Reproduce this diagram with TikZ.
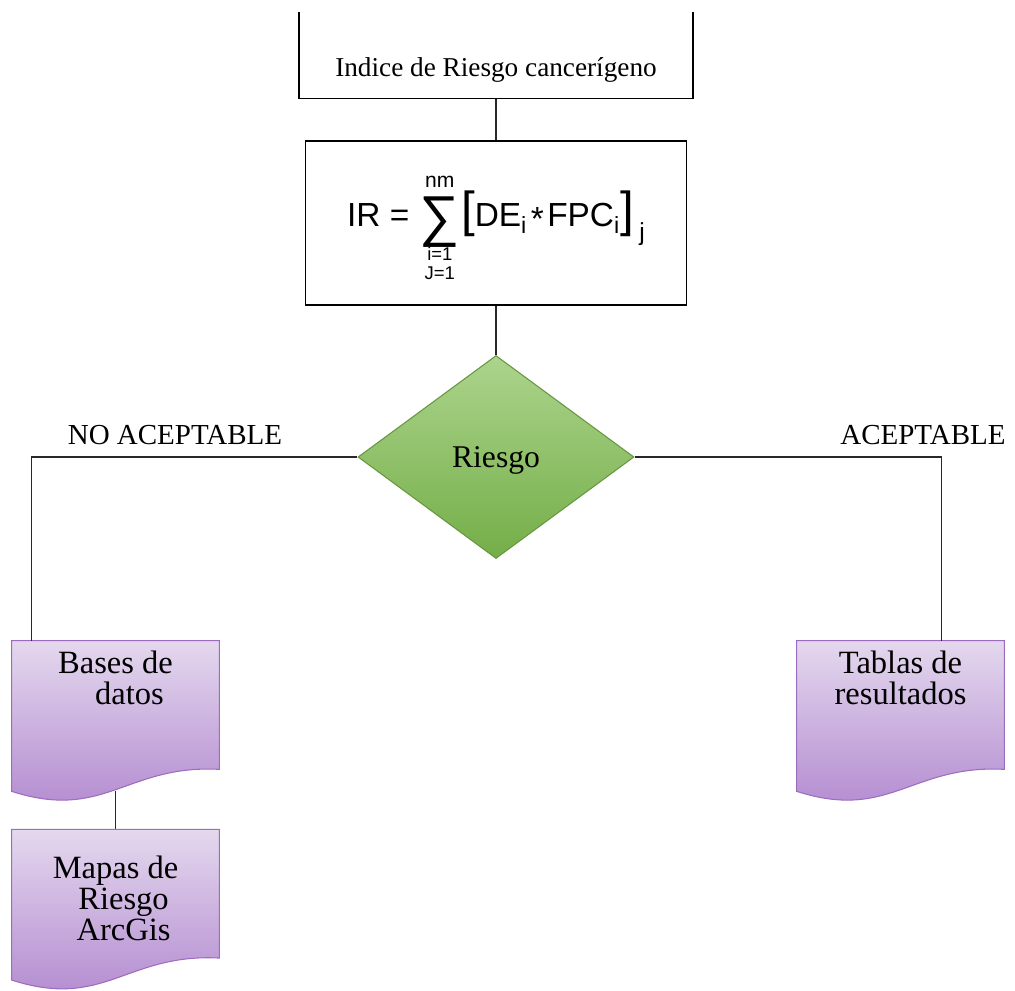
\documentclass[tikz,border=0pt]{standalone}
\usepackage{fontspec}
\setmainfont{Liberation Serif}
\setsansfont{Liberation Sans}
\usepackage{xcolor}
\usetikzlibrary{shapes.geometric, positioning, backgrounds}

\definecolor{GreenTop}{RGB}{172,212,140}
\definecolor{GreenBot}{RGB}{116,174,72}
\definecolor{GreenEdge}{RGB}{104,150,66}
\definecolor{PurpleTop}{RGB}{228,216,238}
\definecolor{PurpleBot}{RGB}{176,134,206}
\definecolor{PurpleEdge}{RGB}{156,108,190}
\definecolor{LineGray}{RGB}{40,40,40}

\newcommand{\doctext}[2][0pt]{\parbox[c][3cm][t]{4.14cm}{\centering\vspace*{#1}#2}}
% sum sign with its limits, placed by hand
\newcommand{\sumpart}[2]{\makebox[0pt]{\raisebox{#1}[0pt][0pt]{#2}}}
\newcommand{\sumstack}{\makebox[0.85cm]{%
  \sumpart{22.5pt}{\fontsize{12}{12}\selectfont nm}%
  \sumpart{-4.8pt}{\fontsize{32}{32}\selectfont ∑}%
  \sumpart{-19.2pt}{\fontsize{10.5}{11}\selectfont i=1}%
  \sumpart{-29.8pt}{\fontsize{10.5}{11}\selectfont J=1}}}

\begin{document}
\begin{tikzpicture}[
    every node/.style={font=\fontsize{16.5}{18}\selectfont},
    box/.style={draw, line width=0.8pt, inner sep=0pt},
    decision/.style={diamond, aspect=1.36, draw=GreenEdge, line width=0.6pt,
      top color=GreenTop, bottom color=GreenBot, inner sep=0pt, text depth=0pt,
      minimum width=5.52cm, minimum height=4.06cm, font=\fontsize{18}{20}\selectfont},
    doc/.style={inner sep=0pt, font=\fontsize{18.5}{17.6}\selectfont},
    docshape/.style={draw=PurpleEdge, line width=0.6pt, top color=PurpleTop, bottom color=PurpleBot},
    conn/.style={draw=LineGray, line width=0.8pt},
    lbl/.style={above=3pt}
  ]
  \useasboundingbox (0,0) rectangle (20.3,-19.8);
  \clip (0,-0.24) rectangle (20.3,-19.8);

  % Index box and formula
  \node[box, anchor=south, minimum width=7.88cm, text height=2.36cm, text depth=0.44cm,
    font=\fontsize{15.5}{18}\selectfont] (indice) at (9.92,-1.98) {Indice de Riesgo cancerígeno};
  \node[box, minimum width=7.62cm, minimum height=3.28cm, text height=0.6cm, text depth=0.45cm,
    font=\sffamily\fontsize{19}{22}\selectfont] (formula) at (9.92,-4.46)
    {IR = \sumstack{\fontsize{28}{28}\selectfont[}DE\textsubscript{i}\kern2pt\raisebox{-2pt}{*}\kern2pt FPC\textsubscript{i}{\fontsize{28}{28}\selectfont]}\,\raisebox{-8pt}{\fontsize{14}{14}\selectfont j}};

  % Decision
  \node[decision] (riesgo) at (9.92,-9.14) {Riesgo};

  % Documents
  \node[doc] (bases) at (2.31,-14.32) {\doctext[0.2cm]{Bases de\\\hspace*{0.56cm}datos}};
  \node[doc, below=0.76cm of bases] (mapas) {\doctext[0.52cm]{Mapas de\\\hspace*{0.32cm}Riesgo\\\hspace*{0.32cm}ArcGis}};
  \node[doc] (tablas) at (18.01,-14.32) {\doctext[0.2cm]{Tablas de\\resultados}};

  \begin{pgfonlayer}{background}
    \draw[conn] (bases.south) -- (mapas.north);
    \foreach \d in {bases, mapas, tablas}
      \path[docshape] (\d.north west) -- (\d.north east) -- ([yshift=0.44cm]\d.south east)
        .. controls ([shift={(-1.86,0.54)}]\d.south east) and ([shift={(1.86,-0.6)}]\d.south west) .. (\d.south west) -- cycle;
  \end{pgfonlayer}

  % Connectors
  \draw[conn] (indice) -- (formula);
  \draw[conn] (formula) -- (riesgo);
  \draw[conn] (riesgo.west) -| node[pos=0.28, lbl] (noacept) {NO ACEPTABLE} ([xshift=0.4cm]bases.north west);
  \draw[conn] (riesgo.east) -| node[pos=0.47, lbl] (acept) {ACEPTABLE} ([xshift=-1.26cm]tablas.north east);
\end{tikzpicture}
\end{document}
